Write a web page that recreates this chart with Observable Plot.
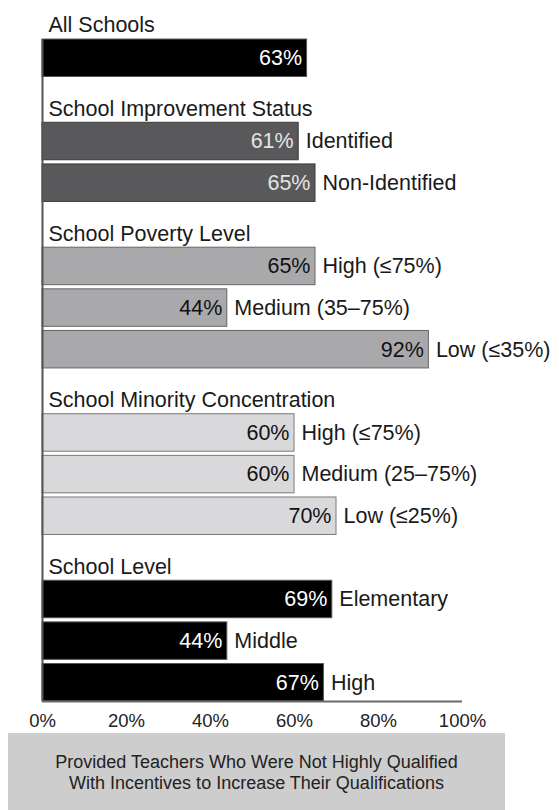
<!DOCTYPE html>
<html><head><meta charset="utf-8">
<script src="https://cdn.jsdelivr.net/npm/d3@7"></script>
<script src="https://cdn.jsdelivr.net/npm/@observablehq/plot@0.6"></script>
<style>
body{margin:0;background:#fff;font-family:"Liberation Sans",Arial,sans-serif;}
#chart svg{display:block;overflow:visible;}
#caption{margin-left:8px;width:497px;height:77px;background:#cdcdcd;text-align:center;font-size:18px;line-height:21px;color:#222;padding-top:19px;box-sizing:border-box;}
</style></head><body>
<div id="chart"></div>
<div id="caption">Provided Teachers Who Were Not Highly Qualified<br>With Incentives to Increase Their Qualifications</div>
<script>
// ---- data ----
const groupNames = ["All Schools", "School Improvement Status", "School Poverty Level", "School Minority Concentration", "School Level"];
const allLabels = [""];
const allValues = [63];
const improvementLabels = ["Identified", "Non-Identified"];
const improvementValues = [61, 65];
const povertyLabels = ["High (≤75%)", "Medium (35–75%)", "Low (≤35%)"];
const povertyValues = [65, 44, 92];
const minorityLabels = ["High (≤75%)", "Medium (25–75%)", "Low (≤25%)"];
const minorityValues = [60, 60, 70];
const levelLabels = ["Elementary", "Middle", "High"];
const levelValues = [69, 44, 67];
const tickValues = [0, 20, 40, 60, 80, 100];

// ---- styles ----
const groupFill = ["#000000", "#59595b", "#a9a9ac", "#d9d9db", "#000000"];
const groupStroke = ["#555555", "#3a3a3a", "#666666", "#7a7a7a", "#555555"];
const valueColor = ["#ffffff", "#e4e4e4", "#111111", "#111111", "#ffffff"];
const font = 21.5;
const pad = 0.1;

// ---- layout rows ----
const groups = [
  [allLabels, allValues], [improvementLabels, improvementValues], [povertyLabels, povertyValues],
  [minorityLabels, minorityValues], [levelLabels, levelValues]
];
const headers = [], rows = [];
let r = 0;
groups.forEach(([labels, values], gi) => {
  headers.push({name: groupNames[gi], row: r++});
  labels.forEach((l, k) => rows.push({group: gi, label: l, value: values[k], row: r++}));
});
const nRows = r;
const firstBar = rows[0].row;

const chart = Plot.plot({
  width: 559,
  height: 733,
  marginTop: 0,
  marginLeft: 42,
  marginRight: 97,
  marginBottom: 32,
  style: {fontFamily: '"Liberation Sans", Arial, sans-serif', background: "transparent"},
  x: {domain: [0, 100], label: null},
  y: {domain: [0, nRows - pad], range: [-2.6, 701], axis: null},
  marks: [
    Plot.rect(rows, {x1: 0, x2: "value", y1: "row", y2: d => d.row + 1 - pad,
      fill: d => groupFill[d.group], stroke: d => groupStroke[d.group], strokeWidth: 1}),
    Plot.ruleX([0], {y1: firstBar, y2: nRows - pad, stroke: "#555", strokeWidth: 2}),
    Plot.ruleY([nRows - pad], {x1: 0, x2: 100, stroke: "#6a6a6a", strokeWidth: 2}),
    Plot.text(headers, {x: 0, y: d => d.row + 1 - pad, text: "name", textAnchor: "start", lineAnchor: "bottom",
      dx: 6, dy: -3, fontSize: font, fill: "#1a1a1a"}),
    Plot.text(rows, {x: "value", y: d => d.row + (1 - pad) / 2, text: d => d.value + "%", textAnchor: "end",
      dx: -5, fontSize: font, fill: d => valueColor[d.group]}),
    Plot.text(rows, {x: "value", y: d => d.row + (1 - pad) / 2, text: "label", textAnchor: "start",
      dx: 7, fontSize: font, fill: "#1a1a1a"}),
    Plot.axisX(tickValues, {anchor: "bottom", tickSize: 0, tickPadding: 12, tickFormat: d => d + "%",
      fontSize: 18.5, fill: "#222", label: null})
  ]
});
document.getElementById("chart").appendChild(chart);
</script>
</body></html>
